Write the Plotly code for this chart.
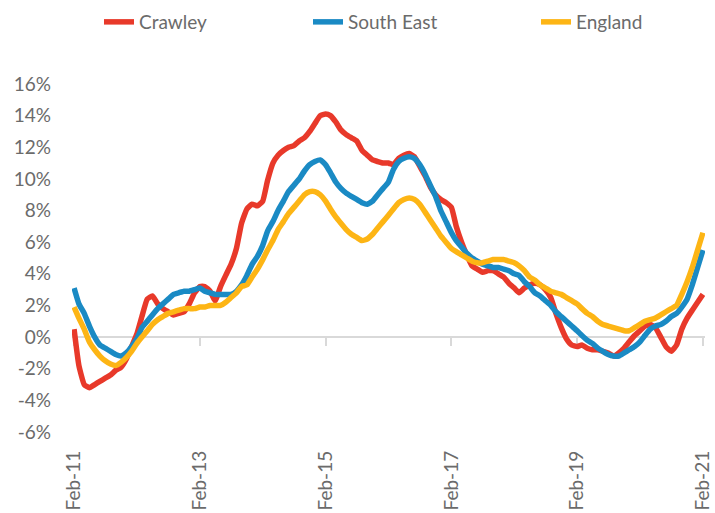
import pandas as pd
import plotly.graph_objects as go

months = pd.date_range("2011-02-01", periods=121, freq="MS")

crawley = [
    0.5, -1.8, -3.0, -3.2, -3.0, -2.8, -2.6, -2.4, -2.1, -1.9,
    -1.4, -0.6, 0.2, 1.3, 2.4, 2.6, 2.1, 1.8, 1.6, 1.4,
    1.5, 1.6, 2.1, 2.8, 3.2, 3.2, 2.9, 2.3, 3.2, 3.9,
    4.6, 5.6, 7.2, 8.1, 8.4, 8.3, 8.6, 9.9, 11.0, 11.5,
    11.8, 12.0, 12.1, 12.4, 12.6, 13.0, 13.5, 14.0, 14.1, 14.0,
    13.6, 13.1, 12.8, 12.6, 12.4, 11.8, 11.5, 11.2, 11.1, 11.0,
    11.0, 10.9, 11.3, 11.5, 11.6, 11.4, 10.8, 10.2, 9.5, 9.0,
    8.7, 8.5, 8.2, 7.0, 6.0, 5.2, 4.5, 4.3, 4.1, 4.2,
    4.2, 4.0, 3.8, 3.4, 3.1, 2.8, 3.1, 3.3, 3.4, 3.3,
    3.0, 2.5, 1.5, 0.6, -0.1, -0.5, -0.6, -0.5, -0.7, -0.8,
    -0.8, -0.9, -1.0, -1.2, -1.0, -0.7, -0.3, 0.1, 0.4, 0.7,
    0.8, 0.6, 0.0, -0.6, -0.9, -0.5, 0.5, 1.2, 1.7, 2.2,
    2.7,
]

south_east = [
    3.1, 2.1, 1.5, 0.7, 0.0, -0.5, -0.7, -0.9, -1.1, -1.2,
    -1.0, -0.6, -0.1, 0.6, 1.0, 1.4, 1.8, 2.1, 2.4, 2.7,
    2.8, 2.9, 2.9, 3.0, 3.1, 2.9, 2.8, 2.7, 2.7, 2.7,
    2.7, 2.9, 3.3, 3.9, 4.6, 5.1, 5.8, 6.7, 7.3, 8.0,
    8.6, 9.2, 9.6, 10.0, 10.5, 10.9, 11.1, 11.2, 10.9, 10.4,
    9.8, 9.4, 9.1, 8.9, 8.7, 8.5, 8.4, 8.6, 9.0, 9.4,
    9.8, 10.6, 11.1, 11.3, 11.4, 11.3, 10.9, 10.3, 9.6, 8.9,
    8.0, 7.3, 6.6, 6.1, 5.7, 5.3, 5.0, 4.8, 4.6, 4.5,
    4.4, 4.4, 4.3, 4.2, 4.0, 3.9, 3.5, 3.2, 2.8, 2.6,
    2.3, 2.0, 1.6, 1.3, 1.0, 0.7, 0.4, 0.1, -0.2, -0.4,
    -0.7, -0.9, -1.1, -1.2, -1.2, -1.0, -0.8, -0.6, -0.3, 0.1,
    0.5, 0.7, 0.8, 1.0, 1.3, 1.5, 1.9, 2.4, 3.3, 4.4,
    5.5,
]

england = [
    1.9, 1.2, 0.5, -0.3, -0.8, -1.2, -1.5, -1.7, -1.8, -1.6,
    -1.3, -0.9, -0.4, 0.0, 0.4, 0.8, 1.1, 1.3, 1.5, 1.6,
    1.7, 1.8, 1.8, 1.8, 1.9, 1.9, 2.0, 2.0, 2.0, 2.2,
    2.5, 2.8, 3.2, 3.3, 3.8, 4.3, 4.9, 5.5, 6.1, 6.8,
    7.3, 7.8, 8.2, 8.6, 9.0, 9.2, 9.2, 9.0, 8.6, 8.1,
    7.6, 7.2, 6.8, 6.5, 6.3, 6.1, 6.2, 6.5, 6.9, 7.3,
    7.7, 8.1, 8.5, 8.7, 8.8, 8.7, 8.4, 7.9, 7.4, 6.9,
    6.4, 6.0, 5.6, 5.4, 5.2, 5.0, 4.8, 4.7, 4.7, 4.8,
    4.9, 4.9, 4.9, 4.8, 4.7, 4.5, 4.2, 3.8, 3.6, 3.3,
    3.1, 2.9, 2.8, 2.7, 2.5, 2.3, 2.1, 1.8, 1.5, 1.3,
    1.0, 0.8, 0.7, 0.6, 0.5, 0.4, 0.4, 0.6, 0.8, 1.0,
    1.1, 1.2, 1.4, 1.6, 1.8, 2.0, 2.7, 3.5, 4.4, 5.5,
    6.6,
]

series_names = ["Crawley", "South East", "England"]
series_colors = ["#E8392A", "#1A8AC4", "#FDB515"]

tick_dates = pd.date_range("2011-02-01", "2021-02-01", freq="24MS")
tick_labels = ["Feb-11", "Feb-13", "Feb-15", "Feb-17", "Feb-19", "Feb-21"]
y_ticks = list(range(-6, 17, 2))
y_tick_labels = [f"{v}%" for v in y_ticks]

FONT = "Lato"
TXT = "#6B6B6B"
AX = "#D9D9D9"

fig = go.Figure()
legend_names = ["legend", "legend2", "legend3"]
for name, vals, col, lg in zip(series_names, [crawley, south_east, england], series_colors, legend_names):
    fig.add_trace(go.Scatter(
        x=months, y=vals, name=name, mode="lines",
        line=dict(color=col, width=5.5, shape="spline", smoothing=0.4),
        legend=lg,
    ))

# carrier trace for the bottom label axis (draws nothing)
fig.add_trace(go.Scatter(
    x=months, y=[None] * len(months), xaxis="x2", mode="lines",
    showlegend=False, hoverinfo="skip",
))

legend_common = dict(
    orientation="h", xref="container", yref="container",
    yanchor="middle", xanchor="left",
    font=dict(family=FONT, size=19, color=TXT),
    bgcolor="rgba(0,0,0,0)", borderwidth=0,
)
y_leg = 1 - 22 / 513
fig.update_layout(
    showlegend=True,
    legend=dict(x=99 / 715, y=y_leg, **legend_common),
    legend2=dict(x=308 / 715, y=y_leg, **legend_common),
    legend3=dict(x=536 / 715, y=y_leg, **legend_common),
)

fig.update_layout(
    width=715, height=513,
    margin=dict(l=72, r=10, t=84, b=81, autoexpand=False),
    paper_bgcolor="white", plot_bgcolor="white",
    font=dict(family=FONT, size=19, color=TXT),
    # zero-crossing axis: line and tick marks at y = 0
    xaxis=dict(
        range=["2011-01-20", "2021-02-13"],
        anchor="free", position=6 / 22, side="bottom",
        showline=True, linecolor=AX, linewidth=2, layer="below traces",
        ticks="outside", ticklen=8, tickwidth=2, tickcolor=AX,
        tickvals=tick_dates, showticklabels=False,
        showgrid=False, zeroline=False,
    ),
    # bottom axis carrying the rotated labels
    xaxis2=dict(
        overlaying="x", matches="x", anchor="y", side="bottom",
        tickvals=tick_dates, ticktext=tick_labels, tickangle=-90,
        showgrid=False, showline=False, zeroline=False, ticks="",
        ticklabelstandoff=14,
        tickfont=dict(family=FONT, size=19, color=TXT),
    ),
    yaxis=dict(
        range=[-6, 16], tickvals=y_ticks, ticktext=y_tick_labels,
        showgrid=False, zeroline=False, showline=False, ticks="",
        ticklabelstandoff=20,
        tickfont=dict(family=FONT, size=19, color=TXT),
    ),
)

fig.write_html(
    "out.html",
    config={"displayModeBar": False},
    post_script="document.body.style.margin='0';document.body.style.overflow='hidden';",
)
